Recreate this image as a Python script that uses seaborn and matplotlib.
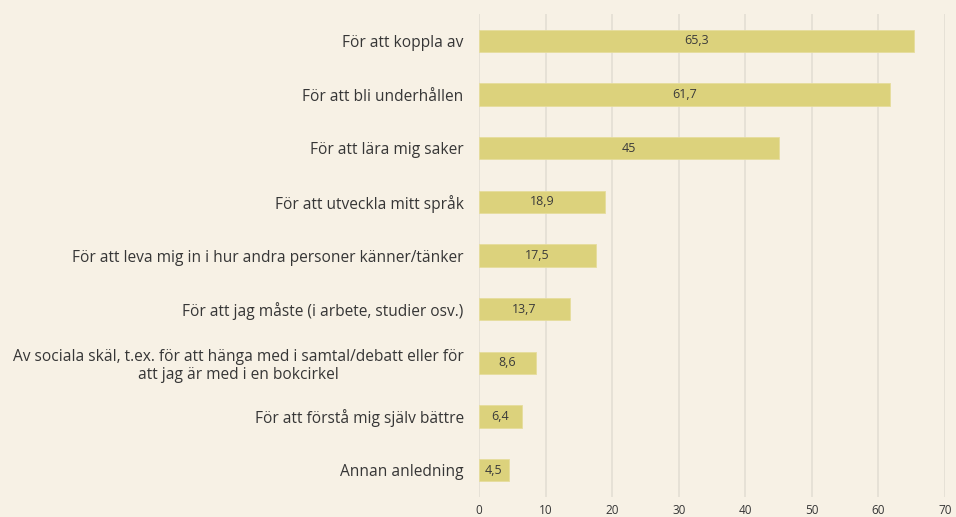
import matplotlib
matplotlib.use("Agg")
import matplotlib.pyplot as plt
import seaborn as sns
import pandas as pd

categories = [
    "För att koppla av",
    "För att bli underhållen",
    "För att lära mig saker",
    "För att utveckla mitt språk",
    "För att leva mig in i hur andra personer känner/tänker",
    "För att jag måste (i arbete, studier osv.)",
    "Av sociala skäl, t.ex. för att hänga med i samtal/debatt eller för\natt jag är med i en bokcirkel",
    "För att förstå mig själv bättre",
    "Annan anledning",
]
values = [65.3, 61.7, 45, 18.9, 17.5, 13.7, 8.6, 6.4, 4.5]
x_ticks = [0, 10, 20, 30, 40, 50, 60, 70]

BG = "#f7f1e5"
BAR = "#dcd27c"
GRID = "#e3ded4"
TXT = "#363636"

sns.set_theme(style="white")
plt.rcParams["font.family"] = ["Open Sans", "DejaVu Sans"]

df = pd.DataFrame({"category": categories, "value": values})

fig = plt.figure(figsize=(9.56, 5.17), dpi=100, facecolor=BG)
ax = fig.add_axes([479 / 956, 20 / 517, (945 - 479) / 956, (497 - 14) / 517])
ax.set_facecolor(BG)

sns.barplot(data=df, x="value", y="category", orient="h", color=BAR,
            width=0.41, saturation=1, ax=ax, zorder=3)
for p in ax.patches:
    p.set_edgecolor("#e6dd9c")
    p.set_linewidth(0.6)

labels = [f"{v:g}".replace(".", ",") for v in values]
ax.bar_label(ax.containers[0], labels=labels, label_type="center",
             fontsize=9, color="#3a3a3a")

ax.set_xlim(0, 70)
ax.set_ylim(8.5, -0.5)
ax.set_xticks(x_ticks)
ax.set_xticklabels([str(t) for t in x_ticks], fontsize=8.5, color=TXT)
ax.tick_params(axis="x", length=0, pad=5)
ax.tick_params(axis="y", length=0, pad=11, labelsize=11.2, labelcolor=TXT)
for lab in ax.get_yticklabels():
    lab.set_multialignment("center")
ax.xaxis.grid(True, color=GRID, linewidth=1.2, zorder=0)
ax.set_axisbelow(True)
ax.set_xlabel("")
ax.set_ylabel("")
for s in ax.spines.values():
    s.set_visible(False)

fig.savefig("out.png", dpi=100, facecolor=BG)
